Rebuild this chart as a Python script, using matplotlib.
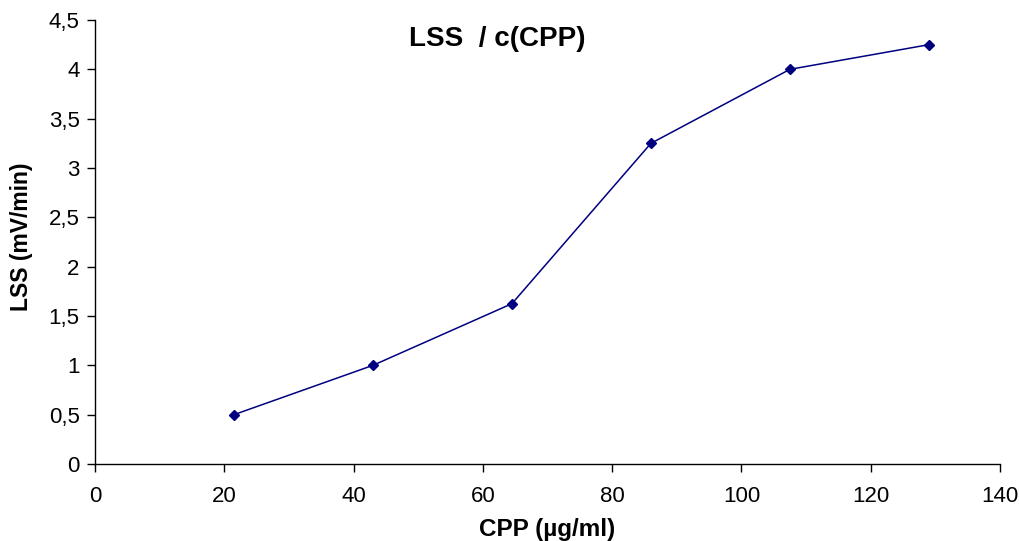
import matplotlib
matplotlib.use("Agg")
import matplotlib.pyplot as plt
from matplotlib.ticker import FuncFormatter, MultipleLocator

plt.rcParams['font.family'] = ['Liberation Sans', 'DejaVu Sans']

cpp = [21.5, 43.0, 64.5, 86.0, 107.5, 129.0]
lss = [0.5, 1.0, 1.625, 3.25, 4.0, 4.25]

fig = plt.figure(figsize=(10.2, 5.41), dpi=100)
ax = fig.add_axes([95/1020, 1 - 464/541, 905/1020, 444/541])

ax.plot(cpp, lss, color='#000080', linewidth=1.1, marker='D', markersize=5,
        markerfacecolor='#000080', markeredgecolor='#000080', clip_on=False)

ax.set_xlim(0, 140)
ax.set_ylim(0, 4.5)
ax.xaxis.set_major_locator(MultipleLocator(20))
ax.yaxis.set_major_locator(MultipleLocator(0.5))
ax.yaxis.set_major_formatter(FuncFormatter(lambda v, p: f"{v:g}".replace('.', ',')))

for s in ('top', 'right'):
    ax.spines[s].set_visible(False)
for s in ('left', 'bottom'):
    ax.spines[s].set_linewidth(1.0)
    ax.spines[s].set_color('black')

ax.tick_params(direction='out', length=6, width=1.0, labelsize=16, colors='black')
ax.tick_params(axis='x', pad=10)
ax.tick_params(axis='y', pad=5)

ax.set_xlabel('CPP (µg/ml)', fontsize=17.5, fontweight='bold', labelpad=8)
ax.set_ylabel('LSS (mV/min)', fontsize=16.5, fontweight='bold')
ax.yaxis.set_label_coords(33/1020, 1 - 237/541, transform=fig.transFigure)

fig.text(497/1020, 1 - 39/541, 'LSS  / c(CPP)', fontsize=20, fontweight='bold',
         ha='center', va='center')

fig.savefig('out.png', dpi=100)
